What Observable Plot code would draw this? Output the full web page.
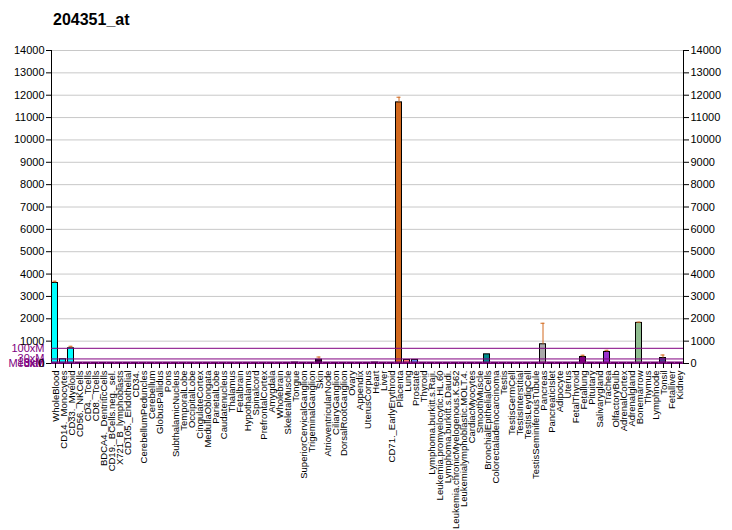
<!DOCTYPE html>
<html>
<head>
<meta charset="utf-8">
<script src="https://cdn.jsdelivr.net/npm/d3@7"></script>
<script src="https://cdn.jsdelivr.net/npm/@observablehq/plot@0.6"></script>
<style>
  html, body { margin: 0; padding: 0; background: #fff; }
  #wrap { position: relative; width: 732px; height: 530px; }
  #title { position: absolute; left: 53px; top: 11px; font: bold 16px "Liberation Sans", Arial, sans-serif; color: #000; }
  svg { display: block; }
</style>
</head>
<body>
<div id="wrap"><div id="title">204351_at</div></div>
<script>
const title = "204351_at";
const tissues = ["WholeBlood","CD14._Monocytes","CD33._Myeloid","CD56._NKCells","CD4._Tcells","CD8._Tcells","BDCA4._DentriticCells","CD19._BCells.neg._sel.","X721_B_lymphoblasts","CD105._Endothelial","CD34.","CerebellumPeduncles","Cerebellum","GlobusPallidus","Pons","SubthalamicNucleus","TemporalLobe","OccipitalLobe","CingulateCortex","MedullaOblongata","ParietalLobe","Caudatenucleus","Thalamus","Fetalbrain","Hypothalamus","Spinalcord","PrefrontalCortex","Amygdala","Wholebrain","SkeletalMuscle","Tongue","SuperiorCervicalGanglion","TrigeminalGanglion","Skin","AtrioventricularNode","CiliaryGanglion","DorsalRootGanglion","Ovary","Appendix","UterusCorpus","Heart","Liver","CD71._EarlyErythroid","Placenta","Lung","Prostate","Thyroid","Lymphoma.burkitt.s.Raji.","Leukemia.promyelocytic.HL.60","Lymphoma.burkitt.s.Daudi.","Leukemia.chronicMyelogenous.K.562","Leukemialymphoblastic.MOLT.4.","CardiacMyocytes","SmoothMuscle","BronchialEpithelialCells","Colorectaladenocarcinoma","Testis","TestisGermCell","TestisInterstitial","TestisLeydigCell","TestisSeminiferousTubule","Pancreas","PancreaticIslet","Adipocyte","Uterus","FetalThyroid","Fetallung","Pituitary","Salivarygland","Trachea","OlfactoryBulb","AdrenalCortex","Adrenalgland","Bonemarrow","Thymus","Lymphnode","Tonsil","Fetalliver","Kidney"];
const values = [3600,190,680,20,15,15,20,15,15,15,15,12,12,12,12,12,12,12,12,12,12,12,12,12,12,12,12,12,12,15,40,15,15,170,15,15,15,15,15,15,40,15,15,11680,160,160,15,15,15,15,15,15,15,15,410,15,15,15,15,15,15,860,15,15,15,15,290,15,15,515,15,15,15,1815,15,15,245,15,15];
const errTops = [3680,0,770,0,0,0,0,0,0,0,0,0,0,0,0,0,0,0,0,0,0,0,0,0,0,0,0,0,0,0,0,0,0,290,0,0,0,0,0,0,0,0,0,11910,0,0,0,0,0,0,0,0,0,0,0,0,0,0,0,0,0,1800,0,0,0,0,370,0,0,590,0,0,0,1850,0,0,380,0,0];
const colors = ["#00FFFF","#00FFFF","#00FFFF","#00FFFF","#00FFFF","#00FFFF","#00FFFF","#00FFFF","#00FFFF","#00FFFF","#00FFFF","#FFFF00","#FFFF00","#FFFF00","#FFFF00","#FFFF00","#FFFF00","#FFFF00","#FFFF00","#FFFF00","#FFFF00","#FFFF00","#FFFF00","#FFFF00","#FFFF00","#FFFF00","#FFFF00","#FFFF00","#FFFF00","#330033","#330033","#330033","#330033","#330033","#330033","#330033","#330033","#330033","#330033","#330033","#330033","#D2691E","#D2691E","#D2691E","#FA8072","#6495ED","#6495ED","#6495ED","#6495ED","#6495ED","#6495ED","#6495ED","#008B8B","#008B8B","#008B8B","#008B8B","#A9A9A9","#A9A9A9","#A9A9A9","#A9A9A9","#A9A9A9","#A9A9A9","#A9A9A9","#800080","#800080","#800080","#800080","#800080","#9932CC","#9932CC","#9932CC","#9932CC","#9932CC","#8FBC8F","#8FBC8F","#483D8B","#483D8B","#483D8B","#483D8B"];
const yTicks = [0,1000,2000,3000,4000,5000,6000,7000,8000,9000,10000,11000,12000,13000,14000];
const median = 6.8;
const refLabels = ["Median","3xM","10xM","30xM","100xM"];
const refMult = [1,3,10,30,100];

const data = tissues.map((name, i) => ({name, value: values[i], err: errTops[i], color: colors[i]}));
const errData = data.filter(d => d.err > 0);
const refs = refLabels.map((label, i) => ({label, v: median * refMult[i]}));

const chart = Plot.plot({
  width: 732,
  height: 530,
  marginLeft: 51,
  marginRight: 49,
  marginTop: 50,
  marginBottom: 167,
  x: {domain: tissues, padding: 0, axis: null},
  y: {domain: [0, 14000], axis: null},
  color: {type: "identity"},
  style: {fontFamily: "'Liberation Sans', Arial, sans-serif", fontSize: "11px", background: "white", overflow: "visible"},
  marks: [
    Plot.ruleY(yTicks.filter(d => d > 0), {y: d => d, stroke: "#c8c8c8", strokeWidth: 1}),
    Plot.barY(data, {x: "name", y: "value", fill: "color", stroke: "black", strokeWidth: 1, insetLeft: 0.5, insetRight: 1.5}),
    Plot.ruleX(errData, {x: "name", y1: "value", y2: "err", stroke: "#D2691E", strokeWidth: 1, dx: -0.5}),
    Plot.tickY(errData, {x: "name", y: "err", stroke: "#D2691E", strokeWidth: 1, insetLeft: 1.5, insetRight: 2.5}),
    Plot.frame({anchor: "bottom", stroke: "black"}),
    Plot.frame({anchor: "left", stroke: "black"}),
    Plot.frame({anchor: "right", stroke: "black"}),
    Plot.ruleY(refs, {y: "v", stroke: "#800080", strokeWidth: 1}),
    Plot.text(refs, {y: "v", text: "label", frameAnchor: "left", textAnchor: "end", dx: -7, fill: "#800080", fontSize: 11}),
    Plot.axisY({anchor: "left", ticks: yTicks, tickFormat: "d", tickSize: 5, tickPadding: 2, label: null, fontSize: 11}),
    Plot.axisY({anchor: "right", ticks: yTicks, tickFormat: "d", tickSize: 5, tickPadding: 2, label: null, fontSize: 11}),
    Plot.axisX({anchor: "bottom", tickSize: 5, tickPadding: 2, tickRotate: -90, label: null, fontSize: 9.5})
  ]
});
document.getElementById("wrap").appendChild(chart);
</script>
</body>
</html>
